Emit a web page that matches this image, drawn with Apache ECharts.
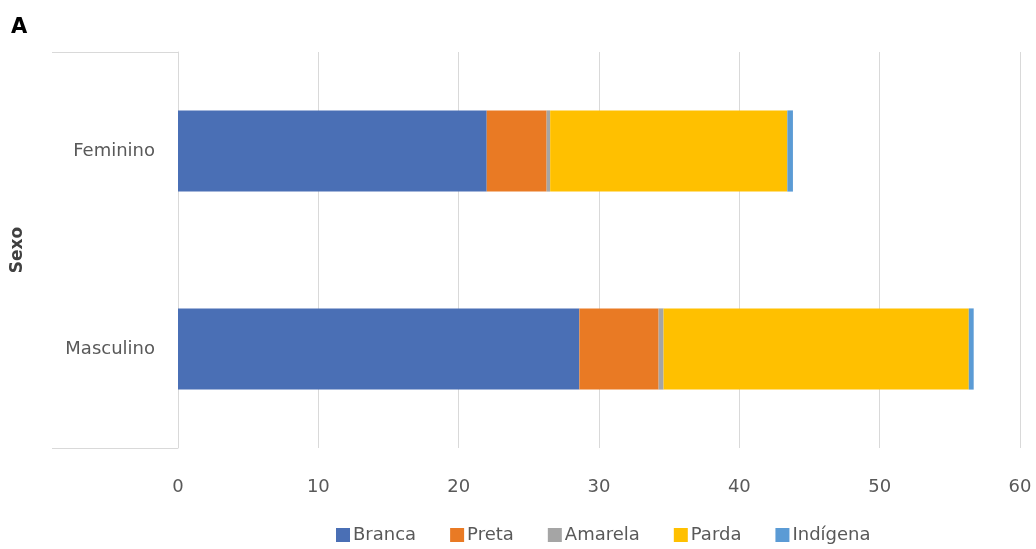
<!DOCTYPE html>
<html><head><meta charset="utf-8">
<script src="https://cdn.jsdelivr.net/npm/echarts@6/dist/echarts.min.js"></script>
<style>html,body{margin:0;padding:0;background:#fff}#c{width:1036px;height:549px}</style>
</head><body><div id="c"></div>
<script>
const categories = ['Feminino', 'Masculino'];
const seriesNames = ['Branca', 'Preta', 'Amarela', 'Parda', 'Indígena'];
const branca = [22.0, 28.6];
const preta = [4.27, 5.65];
const amarela = [0.25, 0.35];
const parda = [16.9, 21.75];
const indigena = [0.4, 0.35];
const xTicks = [0, 10, 20, 30, 40, 50, 60];
const colors = ['#4A6FB5', '#E97A24', '#A5A5A5', '#FFC000', '#5B9BD5'];

const values = [branca, preta, amarela, parda, indigena];
const font = 'DejaVu Sans';
const chart = echarts.init(document.getElementById('c'));
chart.setOption({
  animation: false,
  textStyle: { fontFamily: font },
  grid: { left: 178, right: 16, top: 52, bottom: 101, containLabel: false },
  xAxis: {
    type: 'value', min: xTicks[0], max: xTicks[xTicks.length - 1], interval: 10,
    axisLine: { show: false }, axisTick: { show: false },
    splitLine: { show: true, lineStyle: { color: '#D9D9D9', width: 1 } },
    axisLabel: { color: '#595959', fontSize: 18, margin: 30, fontFamily: font }
  },
  yAxis: {
    type: 'category', data: categories, inverse: true,
    axisLine: { show: true, lineStyle: { color: '#D9D9D9', width: 1 } },
    axisTick: { show: false },
    axisLabel: { color: '#595959', fontSize: 18, margin: 23, fontFamily: font },
    name: 'Sexo', nameLocation: 'middle', nameGap: 152, nameRotate: 90,
    nameTextStyle: { color: '#404040', fontSize: 17, fontWeight: 'bold', fontFamily: font }
  },
  legend: {
    bottom: 0, left: 331, itemWidth: 14, itemHeight: 14, itemGap: 34,
    icon: 'rect', textStyle: { color: '#595959', fontSize: 18, fontFamily: font, padding: [0, 0, 0, -2] },
    data: seriesNames
  },
  graphic: [
    { type: 'text', left: 11, top: 17, style: { text: 'A', fontSize: 21, fontWeight: 'bold', fill: '#000', fontFamily: font } },
    { type: 'line', shape: { x1: 52, y1: 52.5, x2: 178, y2: 52.5 }, style: { stroke: '#D9D9D9', lineWidth: 1 } },
    { type: 'line', shape: { x1: 52, y1: 448.5, x2: 178, y2: 448.5 }, style: { stroke: '#D9D9D9', lineWidth: 1 } }
  ],
  series: seriesNames.map((n, i) => ({
    name: n, type: 'bar', stack: 'total', data: values[i], barWidth: '41%',
    itemStyle: { color: colors[i] }
  }))
});
</script></body></html>
